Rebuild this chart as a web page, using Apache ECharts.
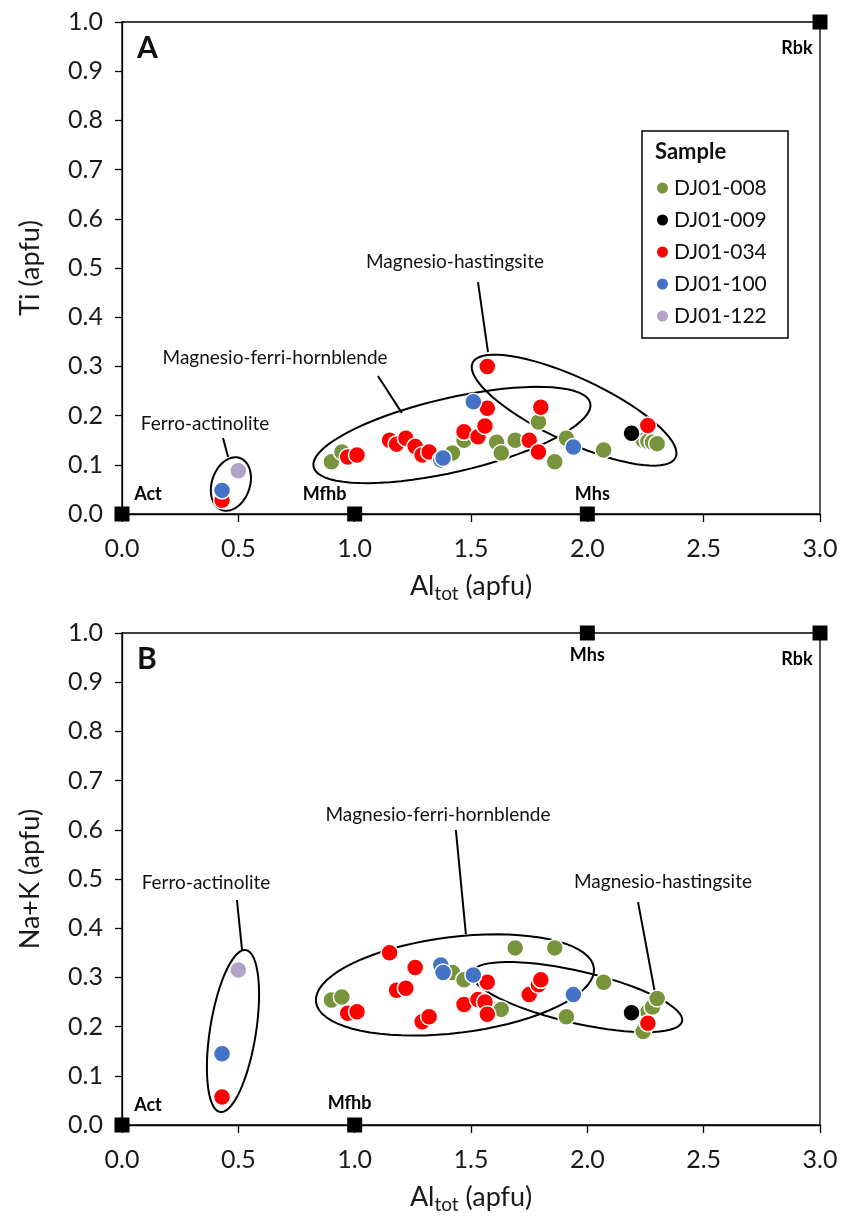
<!DOCTYPE html>
<html><head><meta charset="utf-8">
<script src="https://cdn.jsdelivr.net/npm/echarts@6/dist/echarts.min.js"></script>
<style>html,body{margin:0;padding:0;background:#fff}#c{width:843px;height:1218px}</style>
</head><body><div id="c"></div>
<script>
// ---------- DATA ----------
var samples = ['DJ01-008','DJ01-009','DJ01-034','DJ01-100','DJ01-122'];
var al_008  = [0.90, 0.945, 1.42, 1.47, 1.61, 1.63, 1.69, 1.79, 1.86, 1.91, 2.07, 2.24, 2.26, 2.28, 2.30];
var ti_008  = [0.106,0.126,0.124,0.150,0.146,0.124,0.150,0.187,0.106,0.154,0.130,0.150,0.148,0.146,0.143];
var nak_008 = [0.254,0.260,0.310,0.295,0.235,0.235,0.360,0.290,0.360,0.220,0.290,0.190,0.230,0.240,0.257];
var al_009  = [2.19];
var ti_009  = [0.164];
var nak_009 = [0.228];
var al_034  = [0.43, 0.97, 1.01, 1.15, 1.18, 1.22, 1.26, 1.29, 1.32, 1.47, 1.53, 1.56, 1.57, 1.57, 1.75, 1.79, 1.80, 2.26];
var ti_034  = [0.028,0.116,0.120,0.150,0.142,0.154,0.137,0.120,0.126,0.167,0.157,0.179,0.215,0.300,0.150,0.126,0.217,0.180];
var nak_034 = [0.057,0.227,0.230,0.350,0.274,0.278,0.320,0.210,0.220,0.245,0.255,0.250,0.225,0.290,0.265,0.285,0.295,0.207];
var al_100  = [0.43, 1.37, 1.38, 1.51, 1.94];
var ti_100  = [0.048,0.110,0.114,0.228,0.136];
var nak_100 = [0.145,0.325,0.310,0.305,0.265];
var al_122  = [0.50];
var ti_122  = [0.088];
var nak_122 = [0.315];

var endNames = ['Act','Mfhb','Mhs','Rbk'];
var endAl    = [0, 1, 2, 3];
var endTi    = [0, 0, 0, 1];
var endNaK   = [0, 0, 1, 1];

var xTicks = [0.0, 0.5, 1.0, 1.5, 2.0, 2.5, 3.0];
var yTicks = [0.0, 0.1, 0.2, 0.3, 0.4, 0.5, 0.6, 0.7, 0.8, 0.9, 1.0];

// field names and annotation anchors (data units)
var fieldNames = ['Ferro-actinolite','Magnesio-ferri-hornblende','Magnesio-hastingsite'];
var annA = {
  center: [[0.468,0.061],[1.418,0.1606],[1.943,0.211]],
  label:  [[0.357,0.183],[0.658,0.317],[1.431,0.512]],
  lead:   [[[0.434,0.1545],[0.456,0.1159]],[[1.100,0.2805],[1.203,0.2053]],[[1.530,0.4715],[1.573,0.329]]]
};
var annB = {
  center: [[0.477,0.191],[1.431,0.2846],[1.955,0.260]],
  label:  [[0.361,0.492],[1.358,0.630],[2.325,0.494]],
  lead:   [[[0.494,0.4573],[0.516,0.3557]],[[1.435,0.5996],[1.478,0.388]],[[2.218,0.453],[2.290,0.270]]]
};
// ---------- STYLE ----------
var colors = {'DJ01-008':'#77933C','DJ01-009':'#000000','DJ01-034':'#FF0000','DJ01-100':'#4472C4','DJ01-122':'#B3A2C7'};
var ellShapeA = [{a:27.5,b:19,ang:71},{a:142,b:37,ang:13},{a:112,b:32,ang:-25}];
var ellShapeB = [{a:82,b:23,ang:81},{a:140,b:48,ang:7},{a:108,b:26,ang:-13}];
var endLabelOffA = [[26,-20],[-30,-20],[5,-20],[-23,26]];
var endLabelOffB = [[26,-20],[-5,-22],[0,22],[-23,26]];
var FONT = 'Lato';

function pairs(xs, ys){ return xs.map(function(x,i){return [x, ys[i]];}); }

var chart = echarts.init(document.getElementById('c'), null, {renderer:'canvas'});

function axesFor(gi, yname){
  var xa = {
    type:'value', gridIndex:gi, min:0, max:3, interval:0.5,
    axisLine:{show:true, onZero:false, lineStyle:{color:'#000', width:1.3}},
    axisTick:{show:true, inside:false, length:8, lineStyle:{color:'#000', width:1.3}},
    splitLine:{show:false},
    axisLabel:{color:'#1a1a1a', fontFamily:FONT, fontSize:25, margin:22,
      formatter:function(v){ return v.toFixed(1); }},
    name:'{a|Al}{s|tot}{a| (apfu)}', nameLocation:'middle', nameGap:56,
    nameTextStyle:{rich:{a:{fontFamily:FONT,fontSize:27,color:'#1a1a1a'},
                         s:{fontFamily:FONT,fontSize:19,color:'#1a1a1a',padding:[14,0,0,0]}}}
  };
  var ya = {
    type:'value', gridIndex:gi, min:0, max:1, interval:0.1,
    axisLine:{show:true, onZero:false, lineStyle:{color:'#000', width:1.3}},
    axisTick:{show:true, inside:false, length:7, lineStyle:{color:'#000', width:1.3}},
    splitLine:{show:false},
    axisLabel:{color:'#1a1a1a', fontFamily:FONT, fontSize:25, margin:19,
      formatter:function(v){ return v.toFixed(1); }},
    name:yname, nameLocation:'middle', nameGap:78,
    nameTextStyle:{fontFamily:FONT, fontSize:27, color:'#1a1a1a'}
  };
  return [xa, ya];
}

function ellipsePts(cx, cy, s){
  var pts = [], t = s.ang*Math.PI/180;
  for (var k=0;k<=72;k++){
    var p = k/72*2*Math.PI;
    var ex = s.a*Math.cos(p), ey = s.b*Math.sin(p);
    pts.push([cx + ex*Math.cos(t) + ey*Math.sin(t), cy - ex*Math.sin(t) + ey*Math.cos(t)]);
  }
  return pts;
}

function annSeries(gi, ann, shapes){
  return {
    type:'custom', xAxisIndex:gi, yAxisIndex:gi, clip:false, silent:true, z:1,
    data:[[0,0]],
    renderItem:function(params, api){
      var ch = [];
      for (var i=0;i<3;i++){
        var c = api.coord(ann.center[i]);
        ch.push({type:'polyline', shape:{points:ellipsePts(c[0], c[1], shapes[i])},
                 style:{stroke:'#000', lineWidth:2, fill:null}});
        var p1 = api.coord(ann.lead[i][0]), p2 = api.coord(ann.lead[i][1]);
        ch.push({type:'line', shape:{x1:p1[0],y1:p1[1],x2:p2[0],y2:p2[1]},
                 style:{stroke:'#000', lineWidth:2}});
        var lp = api.coord(ann.label[i]);
        ch.push({type:'text', x:lp[0], y:lp[1],
                 style:{text:fieldNames[i], fontFamily:FONT, fontSize:19, fill:'#111',
                        align:'center', verticalAlign:'middle'}});
      }
      return {type:'group', children:ch};
    }
  };
}

function sampleSeries(gi, yList){
  var xs = [al_008, al_009, al_034, al_100, al_122];
  return samples.map(function(n, i){
    return {
      type:'scatter', name:n, xAxisIndex:gi, yAxisIndex:gi, clip:false, z:3,
      symbol:'circle', symbolSize:17,
      itemStyle:{color:colors[n], borderColor:'#fff', borderWidth:1.5, opacity:1},
      data:pairs(xs[i], yList[i])
    };
  });
}

function endSeries(gi, ys, offs){
  return {
    type:'scatter', xAxisIndex:gi, yAxisIndex:gi, clip:false, z:4, symbol:'rect', symbolSize:15,
    itemStyle:{color:'#000', opacity:1},
    data:endAl.map(function(x,i){
      return {value:[x, ys[i]], name:endNames[i],
        label:{show:true, formatter:endNames[i], position:'inside', offset:offs[i],
               fontFamily:FONT, fontWeight:'bold', fontSize:18, color:'#000',
               textBorderWidth:0, opacity:1}};
    })
  };
}

var axA = axesFor(0, 'Ti (apfu)');
var axB = axesFor(1, 'Na+K (apfu)');

var option = {
  animation:false,
  backgroundColor:'#fff',
  grid:[
    {left:122, top:22, width:698, height:492, show:true, borderColor:'#000', borderWidth:1.3, backgroundColor:'transparent'},
    {left:122, top:633, width:698, height:492, show:true, borderColor:'#000', borderWidth:1.3, backgroundColor:'transparent'}
  ],
  xAxis:[axA[0], axB[0]],
  yAxis:[axA[1], axB[1]],
  legend:{
    data:samples, orient:'vertical', left:650, top:172, itemGap:10,
    icon:'circle', itemWidth:13, itemHeight:13,
    textStyle:{fontFamily:FONT, fontSize:21, color:'#111', lineHeight:22}
  },
  graphic:[
    {type:'rect', shape:{x:642, y:131, width:146, height:207}, style:{fill:'#fff', stroke:'#000', lineWidth:1.5}, z:-1},
    {type:'text', x:655, y:141, style:{text:'Sample', fontFamily:FONT, fontWeight:'bold', fontSize:22, fill:'#111'}},
    {type:'text', x:137, y:33, style:{text:'A', fontFamily:FONT, fontWeight:'bold', fontSize:30, fill:'#111'}},
    {type:'text', x:137, y:644, style:{text:'B', fontFamily:FONT, fontWeight:'bold', fontSize:30, fill:'#111'}}
  ],
  series:[].concat(
    [annSeries(0, annA, ellShapeA), annSeries(1, annB, ellShapeB)],
    sampleSeries(0, [ti_008, ti_009, ti_034, ti_100, ti_122]),
    sampleSeries(1, [nak_008, nak_009, nak_034, nak_100, nak_122]),
    [endSeries(0, endTi, endLabelOffA), endSeries(1, endNaK, endLabelOffB)]
  )
};
chart.setOption(option);
</script></body></html>
